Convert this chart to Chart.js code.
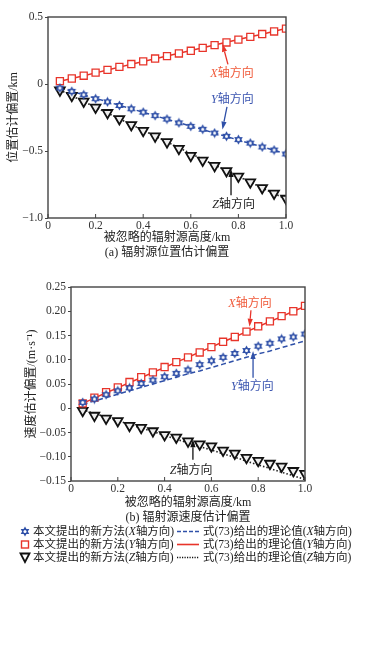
<!DOCTYPE html>
<html><head><meta charset="utf-8">
<script src="https://cdn.jsdelivr.net/npm/chart.js@4"></script>
<style>
html,body{margin:0;padding:0;background:#fff;width:365px;height:647px;overflow:hidden}
#wa{position:absolute;left:0;top:0;width:365px;height:260px}
#wb{position:absolute;left:0;top:260px;width:365px;height:265px}
.leg{position:absolute;font-family:'Liberation Serif','Noto Sans CJK SC',serif;font-size:11.5px;color:#222;white-space:nowrap;line-height:13px;height:13px}
.leg svg{position:absolute;top:0}
</style></head><body>
<div id="wa"><canvas id="ca"></canvas></div>
<div id="wb"><canvas id="cb"></canvas></div>
<div id="legend"></div>
<script>
// ---------- data ----------
const heightKm = [0.05,0.10,0.15,0.20,0.25,0.30,0.35,0.40,0.45,0.50,0.55,0.60,0.65,0.70,0.75,0.80,0.85,0.90,0.95,1.00];
// (a) position bias, km  (X: red squares, Y: blue stars, Z: black triangles, as labelled in the plot)
const posSimX = [0.021,0.041,0.062,0.085,0.105,0.128,0.149,0.169,0.190,0.208,0.228,0.248,0.270,0.290,0.310,0.331,0.352,0.373,0.392,0.413];
const posSimY = [-0.030,-0.055,-0.080,-0.110,-0.133,-0.160,-0.185,-0.210,-0.236,-0.262,-0.290,-0.316,-0.338,-0.366,-0.390,-0.415,-0.441,-0.470,-0.493,-0.522];
const posSimZ = [-0.047,-0.087,-0.130,-0.175,-0.215,-0.260,-0.305,-0.348,-0.390,-0.433,-0.483,-0.535,-0.570,-0.610,-0.648,-0.690,-0.733,-0.775,-0.816,-0.855];
const posThX = [0.020,0.041,0.062,0.083,0.104,0.126,0.147,0.168,0.189,0.209,0.229,0.250,0.270,0.291,0.311,0.332,0.352,0.372,0.393,0.414];
const posThY = [-0.029,-0.055,-0.081,-0.107,-0.133,-0.159,-0.185,-0.211,-0.237,-0.263,-0.289,-0.314,-0.340,-0.366,-0.392,-0.418,-0.444,-0.469,-0.495,-0.521];
const posThZ = [-0.045,-0.088,-0.131,-0.174,-0.217,-0.260,-0.303,-0.346,-0.389,-0.432,-0.476,-0.519,-0.562,-0.605,-0.648,-0.690,-0.733,-0.776,-0.818,-0.858];
// (b) velocity bias, m/s
const velSimX = [0.010,0.022,0.033,0.043,0.054,0.064,0.074,0.085,0.095,0.105,0.115,0.126,0.137,0.147,0.158,0.169,0.179,0.190,0.200,0.211];
const velSimY = [0.012,0.019,0.028,0.036,0.042,0.051,0.058,0.065,0.072,0.079,0.090,0.098,0.105,0.113,0.119,0.128,0.134,0.143,0.147,0.153];
const velSimZ = [-0.005,-0.015,-0.021,-0.026,-0.036,-0.040,-0.047,-0.055,-0.060,-0.068,-0.074,-0.078,-0.087,-0.093,-0.102,-0.108,-0.114,-0.120,-0.129,-0.135];
const velThX = [0.010,0.021,0.032,0.042,0.053,0.063,0.074,0.084,0.095,0.105,0.116,0.126,0.137,0.147,0.158,0.168,0.179,0.189,0.200,0.210];
const velThY = [0.008,0.015,0.022,0.029,0.036,0.043,0.050,0.057,0.064,0.071,0.077,0.084,0.091,0.098,0.105,0.112,0.118,0.125,0.132,0.139];
const velThZ = [-0.003,-0.011,-0.018,-0.026,-0.033,-0.041,-0.048,-0.056,-0.064,-0.071,-0.079,-0.086,-0.094,-0.101,-0.109,-0.117,-0.124,-0.132,-0.139,-0.147];
// tick labels
const xTickVals = [0,0.2,0.4,0.6,0.8,1.0];
const yTickValsA = [-1.0,-0.5,0,0.5];
const yTickValsB = [-0.15,-0.10,-0.05,0,0.05,0.10,0.15,0.20,0.25];

// ---------- styles ----------
const SERIF = "'Liberation Serif','Noto Sans CJK SC',serif";
const RED = '#e8342a', BLUE = '#2f50a8', BLACK = '#111';
const AX = '#333';

function hexagram(){
  const c=document.createElement('canvas'); c.width=c.height=11;
  const g=c.getContext('2d'); const cx=5.5,cy=5.5,R=5;
  g.fillStyle=BLUE;
  for(const rot of [0,Math.PI]){
    g.beginPath();
    for(let i=0;i<3;i++){const a=rot-Math.PI/2+i*2*Math.PI/3; g.lineTo(cx+R*Math.cos(a),cy+R*Math.sin(a));}
    g.closePath(); g.fill();
  }
  g.fillStyle='#fff'; g.beginPath(); g.arc(cx,cy,1.5,0,7); g.fill();
  return c;
}
const HEX = hexagram();

const pts = (ys)=>heightKm.map((x,i)=>({x, y: ys[i]}));
const minus = s => s.replace('-','\u2212');

function datasets(sx,sy,sz,tx,ty,tz){
  return [
    {data:pts(ty), showLine:true, borderColor:BLUE, borderWidth:1.5, borderDash:[5,3], pointRadius:0, order:3},
    {data:pts(tx), showLine:true, borderColor:RED, borderWidth:1.5, pointRadius:0, order:3},
    {data:pts(tz), showLine:true, borderColor:'#222', borderWidth:1.6, borderDash:[1.5,2], pointRadius:0, order:3},
    {data:pts(sy), showLine:false, pointStyle:HEX, pointRadius:5, order:1},
    {data:pts(sx), showLine:false, pointStyle:'rect', pointRadius:5, borderColor:RED, backgroundColor:'#fff', pointBorderWidth:1.3, order:1},
    {data:pts(sz), showLine:false, pointStyle:'triangle', pointRotation:180, pointRadius:5.6, borderColor:BLACK, backgroundColor:'#eee', pointBorderWidth:1.8, order:2}
  ];
}

function drawLabel(ctx, parts, cx, cy, color){
  ctx.save(); ctx.fillStyle=color; ctx.textBaseline='middle'; ctx.textAlign='left';
  let w=0; const fonts=parts.map(p=>(p.i?'italic ':'')+'12px '+SERIF);
  parts.forEach((p,k)=>{ctx.font=fonts[k]; w+=ctx.measureText(p.t).width;});
  let x=cx-w/2;
  parts.forEach((p,k)=>{ctx.font=fonts[k]; ctx.fillText(p.t,x,cy); x+=ctx.measureText(p.t).width;});
  ctx.restore();
}
function arrow(ctx,x1,y1,x2,y2,color){
  ctx.save(); ctx.strokeStyle=color; ctx.fillStyle=color; ctx.lineWidth=1.3;
  const a=Math.atan2(y2-y1,x2-x1), L=8, W=2.6;
  const bx=x2-L*Math.cos(a), by=y2-L*Math.sin(a);
  ctx.beginPath(); ctx.moveTo(x1,y1); ctx.lineTo(bx,by); ctx.stroke();
  ctx.beginPath(); ctx.moveTo(x2,y2);
  ctx.lineTo(bx+W*Math.sin(a), by-W*Math.cos(a));
  ctx.lineTo(bx-W*Math.sin(a), by+W*Math.cos(a)); ctx.closePath(); ctx.fill();
  ctx.restore();
}

const decor = {
  id:'decor',
  afterDraw(chart, args, opts){
    const {ctx, chartArea:a, scales} = chart;
    const xs=scales.x, ys=scales.y;
    ctx.save();
    ctx.strokeStyle='#444'; ctx.lineWidth=1.4;
    ctx.strokeRect(a.left, a.top, a.right-a.left, a.bottom-a.top);
    ctx.lineWidth=1;
    xTickVals.forEach(v=>{const px=xs.getPixelForValue(v); ctx.beginPath(); ctx.moveTo(px,a.bottom); ctx.lineTo(px,a.bottom-4); ctx.stroke();});
    ctx.restore();
    (opts.notes||[]).forEach(n=>{
      arrow(ctx, xs.getPixelForValue(n.tail[0]), ys.getPixelForValue(n.tail[1]), xs.getPixelForValue(n.head[0]), ys.getPixelForValue(n.head[1]), n.color);
      drawLabel(ctx, n.label, xs.getPixelForValue(n.at[0]), ys.getPixelForValue(n.at[1]), n.textColor);
    });
  }
};

function makeOpts(o){
  return {
    responsive:false, animation:false, devicePixelRatio:1,
    layout:{padding:{left:o.padL, right:o.padR, top:o.padT, bottom:0}},
    plugins:{legend:{display:false}, tooltip:{enabled:false}, decor:{notes:o.notes}},
    scales:{
      x:{type:'linear', min:0, max:1,
        afterBuildTicks:s=>{s.ticks=xTickVals.map(v=>({value:v}));},
        ticks:{callback:v=>v===0?'0':v.toFixed(1), font:{family:SERIF,size:11.5}, color:AX, padding:1, maxRotation:0, autoSkip:false},
        grid:{display:false, drawTicks:false}, border:{display:false},
        title:{display:true, text:o.xTitle, font:{family:SERIF,size:12,lineHeight:1.25}, color:'#222', padding:0},
        afterFit:s=>{s.height=o.xH;}
      },
      y:{type:'linear', min:o.ymin, max:o.ymax,
        afterBuildTicks:s=>{s.ticks=o.yTicks.map(v=>({value:v}));},
        ticks:{callback:o.yFmt, font:{family:SERIF,size:11.5}, color:AX, padding:2, autoSkip:false},
        grid:{display:true, drawOnChartArea:false, drawTicks:true, tickLength:3, color:'#444'}, border:{display:false},
        title:{display:true, text:o.yTitle, font:{family:SERIF,size:12}, color:'#222', padding:0},
        afterFit:s=>{s.width=o.yW;}
      }
    }
  };
}

const X = t=>[{t:'X',i:true},{t:'轴方向'}];
const Y = t=>[{t:'Y',i:true},{t:'轴方向'}];
const Z = t=>[{t:'Z',i:true},{t:'轴方向'}];

const ca=document.getElementById('ca'); ca.width=365; ca.height=260;
new Chart(ca,{type:'scatter', data:{datasets:datasets(posSimX,posSimY,posSimZ,posThX,posThY,posThZ)},
  options:makeOpts({padL:7,padR:79,padT:17,xH:42,yW:41,ymin:-1,ymax:0.5,yTicks:yTickValsA,
    yFmt:v=>v===0?'0':minus(v.toFixed(1)),
    xTitle:['被忽略的辐射源高度/km','(a) 辐射源位置估计偏置'], yTitle:'位置估计偏置/km',
    notes:[
      {label:X(),at:[0.773,0.077],tail:[0.756,0.146],head:[0.733,0.300],color:RED,textColor:'#f05a3a'},
      {label:Y(),at:[0.775,-0.115],tail:[0.752,-0.17],head:[0.733,-0.34],color:BLUE,textColor:'#3b55b0'},
      {label:Z(),at:[0.78,-0.90],tail:[0.769,-0.83],head:[0.769,-0.635],color:'#111',textColor:'#222'}
    ]}),
  plugins:[decor]});

const cb=document.getElementById('cb'); cb.width=365; cb.height=265;
new Chart(cb,{type:'scatter', data:{datasets:datasets(velSimX,velSimY,velSimZ,velThX,velThY,velThZ)},
  options:makeOpts({padL:25,padR:60,padT:27,xH:44,yW:46,ymin:-0.15,ymax:0.25,yTicks:yTickValsB,
    yFmt:v=>v===0?'0':minus(v.toFixed(2)),
    xTitle:['被忽略的辐射源高度/km','(b) 辐射源速度估计偏置'], yTitle:'速度估计偏置/(m·s\u207B\u00B9)',
    notes:[
      {label:X(),at:[0.765,0.216],tail:[0.769,0.202],head:[0.763,0.168],color:RED,textColor:'#f05a3a'},
      {label:Y(),at:[0.775,0.044],tail:[0.778,0.063],head:[0.778,0.118],color:BLUE,textColor:'#3b55b0'},
      {label:Z(),at:[0.513,-0.129],tail:[0.521,-0.106],head:[0.521,-0.064],color:'#111',textColor:'#222'}
    ]}),
  plugins:[decor]});

// ---------- legend ----------
const legendRows = [
  {sim:'本文提出的新方法(', th:'式(73)给出的理论值(', ax:'X'},
  {sim:'本文提出的新方法(', th:'式(73)给出的理论值(', ax:'Y'},
  {sim:'本文提出的新方法(', th:'式(73)给出的理论值(', ax:'Z'}
];
const markerSvg = [
  `<svg width="12" height="13" style="left:19px"><polygon points="6,1.5 10.3,9 1.7,9" fill="${BLUE}"/><polygon points="6,11.5 10.3,4 1.7,4" fill="${BLUE}"/><circle cx="6" cy="6.5" r="1.5" fill="#fff"/></svg>`,
  `<svg width="12" height="13" style="left:19px"><rect x="2.5" y="3" width="7" height="7" fill="#fff" stroke="${RED}" stroke-width="1.4"/></svg>`,
  `<svg width="12" height="13" style="left:19px"><polygon points="1.5,2.5 10.5,2.5 6,11" fill="#fff" stroke="#111" stroke-width="1.8"/></svg>`
];
const lineSvg = [
  `<svg width="22" height="13" style="left:177px"><line x1="0" y1="6.5" x2="22" y2="6.5" stroke="${BLUE}" stroke-width="1.5" stroke-dasharray="4,2"/></svg>`,
  `<svg width="22" height="13" style="left:177px"><line x1="0" y1="6.5" x2="22" y2="6.5" stroke="${RED}" stroke-width="1.6"/></svg>`,
  `<svg width="22" height="13" style="left:177px"><line x1="0" y1="6.5" x2="22" y2="6.5" stroke="#111" stroke-width="1.5" stroke-dasharray="1.2,1.3"/></svg>`
];
const lg=document.getElementById('legend');
legendRows.forEach((r,i)=>{
  const top=525+i*13;
  lg.insertAdjacentHTML('beforeend',
    `<div class="leg" style="left:0;top:${top}px;width:365px">${markerSvg[i]}${lineSvg[i]}`+
    `<span style="position:absolute;left:33px">${r.sim}<i>${r.ax}</i>轴方向)</span>`+
    `<span style="position:absolute;left:203px">${r.th}<i>${r.ax}</i>轴方向)</span></div>`);
});
</script>
</body></html>
